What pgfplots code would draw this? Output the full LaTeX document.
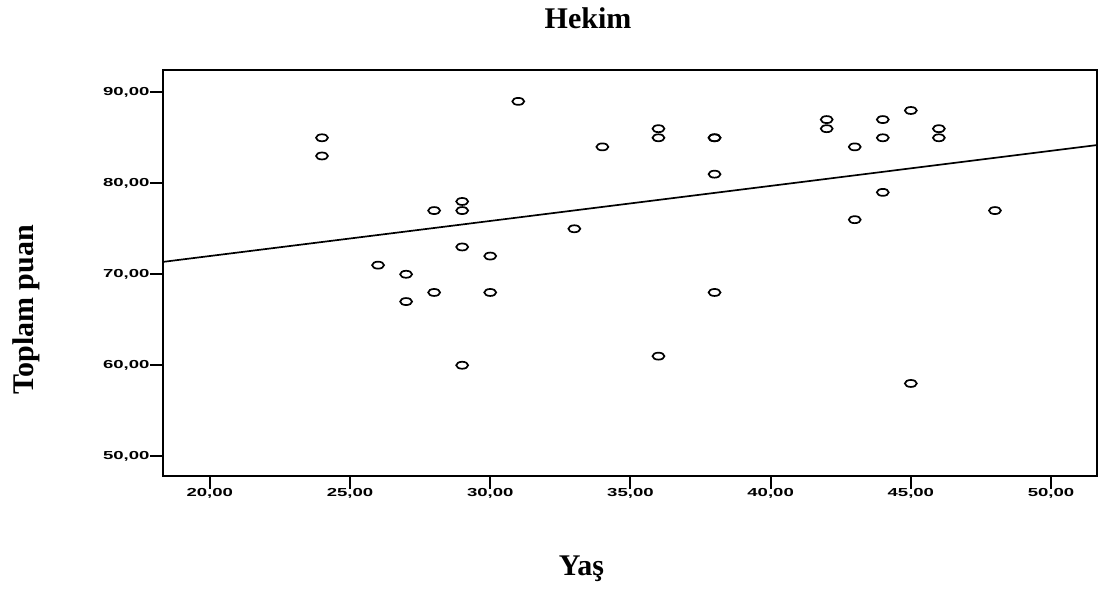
\documentclass[border=0pt]{standalone}
\usepackage{fontspec}
\setmainfont{Liberation Serif}
\newfontfamily\tickfont[FakeStretch=1.6]{Liberation Sans Bold}
\usepackage{pgfplots}
\pgfplotsset{compat=1.18}
\newcommand\ticklbl{\tickfont\fontsize{11.6bp}{13bp}\selectfont}
\newcommand\biglbl{\bfseries\fontsize{30bp}{36bp}\selectfont}
\begin{document}
\begin{tikzpicture}[x=1bp,y=1bp]
\path[use as bounding box] (0,0) rectangle (1102,590);
\begin{axis}[
  at={(163bp,114bp)}, anchor=south west,
  width=934bp, height=406bp, scale only axis,
  xmin=18.33, xmax=51.64, ymin=47.83, ymax=92.45,
  xtick={20,25,30,35,40,45,50},
  ytick={50,60,70,80,90},
  xtick pos=left, ytick pos=left,
  tick align=outside,
  major tick length=13bp,
  major tick style={line width=2bp, draw=black},
  axis line style={line width=2.4bp},
  ticklabel style={font=\ticklbl},
  xticklabel style={yshift=4bp},
  yticklabel style={xshift=3bp},
  /pgf/number format/assume math mode=true,
  /pgf/number format/.cd, fixed, fixed zerofill, precision=2, use comma,
]
\addplot[only marks, mark=o, mark size=3.5bp, mark options={xscale=1.7, line width=1.7bp, black}] coordinates {
(24,85) (24,83)
(26,71)
(27,70) (27,67)
(28,77) (28,68)
(29,78) (29,77) (29,73) (29,60)
(30,72) (30,68)
(31,89)
(33,75)
(34,84)
(36,86) (36,85) (36,61)
(38,85) (38,85) (38,81) (38,68)
(42,87) (42,86)
(43,84) (43,76)
(44,87) (44,85) (44,79)
(45,88) (45,58)
(46,86) (46,85)
(48,77)
};
\addplot[black, line width=1.7bp, no marks] coordinates {(18.33,71.36) (51.64,84.2)};
\end{axis}
\node[anchor=base, font=\biglbl] at (588,561) {Hekim};
\node[anchor=base, font=\biglbl] at (581.5,14.3) {Yaş};
\node[anchor=base, rotate=90, font=\biglbl] at (33,280) {Toplam puan};
\end{tikzpicture}
\end{document}
